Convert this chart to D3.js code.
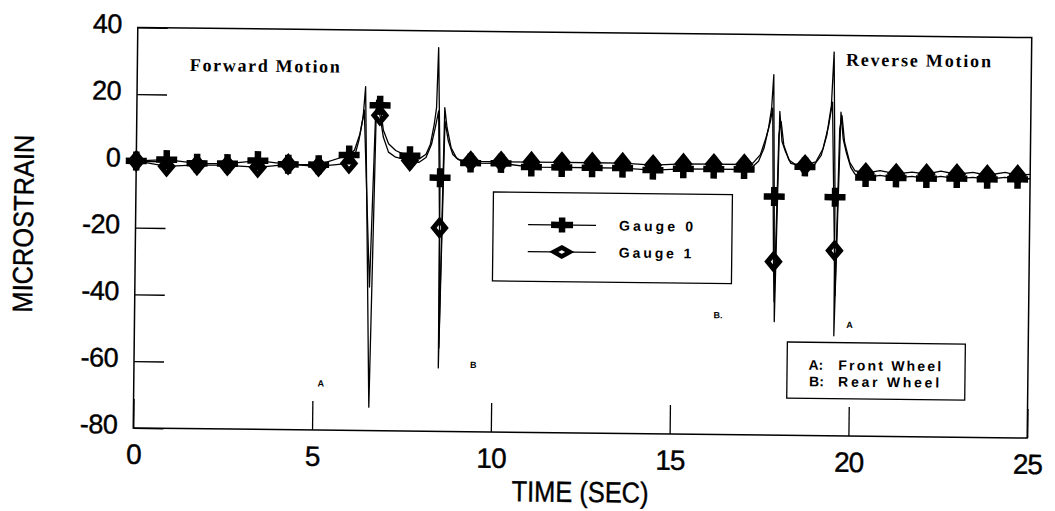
<!DOCTYPE html>
<html>
<head>
<meta charset="utf-8">
<script src="https://cdn.jsdelivr.net/npm/d3@7"></script>
<style>
  html, body { margin: 0; padding: 0; background: #fff; }
  svg { display: block; }
</style>
</head>
<body>
<svg id="chart" width="1055" height="511"></svg>
<script>
// Axis ticks
const xTicks = [0, 5, 10, 15, 20, 25];
const yTicks = [-80, -60, -40, -20, 0, 20, 40];

// Sample times that carry a marker (seconds)
const markerTimes = [0, 0.85, 1.70, 2.55, 3.40, 4.25, 5.10, 5.95, 6.80, 7.65,
  8.50, 9.35, 10.20, 11.05, 11.90, 12.75, 13.60, 14.45, 15.30, 16.15,
  17.00, 17.85, 18.70, 19.55, 20.40, 21.25, 22.10, 22.95, 23.80, 24.65];

// Microstrain at the marker samples
const gauge0Marks = [0, 0.5, -0.5, -0.5, 0.5, -0.5, -0.5, 2.5, 17.5, 2.5,
  -4, 0.5, 0.5, -0.5, -0.5, -0.5, -0.5, -1, -0.5, -0.5,
  -0.5, -8.5, 0.5, -8.5, -2.5, -2.5, -2.6, -2.5, -2.6, -2.5];
const gauge1Marks = [0, -1.5, -1, -1, -1.5, -0.5, -1, 0, 14.5, 1,
  -19, 1, 1, 1, 1, 1, 1, 0.5, 1, 1,
  1, -28, 1, -24.5, -1.2, -1.3, -1.3, -1.2, -1.4, -1.3];

// Samples between markers: [time, microstrain]
const gauge0Between = [
  [6.10, 4], [6.25, 9], [6.33, 14], [6.39, 23], [6.58, -73], [6.70, 19],
  [6.90, 10], [7.05, 6], [7.25, 4], [7.45, 3],
  [7.90, 1.5], [8.10, 3], [8.22, 6], [8.32, 12], [8.38, 17], [8.42, 35],
  [8.51, -61], [8.61, 17], [8.68, 11], [8.80, 5], [8.95, 2], [9.10, 1],
  [17.20, 0], [17.40, 2], [17.55, 6], [17.67, 12], [17.75, 18], [17.80, 28],
  [17.89, -46], [17.98, 17], [18.05, 8], [18.15, 5], [18.30, 1.5], [18.50, 1],
  [18.95, 1], [19.15, 4], [19.30, 10], [19.42, 19], [19.48, 35], [19.56, -50],
  [19.69, 17], [19.76, 9], [19.85, 5], [19.98, 0.5], [20.10, -1.5],
  [20.80, -1.8], [21.70, -2.0], [22.50, -1.9], [23.40, -2.1], [24.30, -2.0], [25.0, -2.3]
];
const gauge1Between = [
  [6.10, 2], [6.22, 7], [6.30, 12], [6.36, 16], [6.56, -37], [6.68, 16],
  [6.90, 8], [7.05, 3.5], [7.25, 2], [7.45, 1.5],
  [7.90, 0.5], [8.10, 2], [8.25, 6], [8.35, 11], [8.44, 16], [8.52, -55],
  [8.62, 13], [8.72, 7], [8.85, 3], [9.00, 1.5],
  [17.25, 1.5], [17.45, 4], [17.60, 9], [17.72, 14], [17.78, 18], [17.88, -40],
  [17.96, 10], [18.02, 14], [18.10, 7], [18.25, 2.5], [18.45, 1],
  [19.00, 2], [19.20, 6], [19.35, 13], [19.45, 20], [19.58, -38], [19.66, 12],
  [19.72, 16], [19.80, 8], [19.95, 2], [20.10, -0.5],
  [20.80, -0.4], [21.70, -0.7], [22.50, -0.3], [23.40, -0.6], [24.30, -0.5], [25.0, -1.0]
];

const seriesNames = ["Gauge 0", "Gauge 1"];
const wheelKeys = ["A:", "B:"];
const wheelNames = ["Front Wheel", "Rear Wheel"];
const motionLabels = ["Forward Motion", "Reverse Motion"];

// Small wheel letters beside the passes: [time, microstrain, text]
const passLetters = [[5.23, -66, "A"], [9.49, -60, "B"], [16.32, -44.2, "B."], [20.0, -46.7, "A"]];

const svg = d3.select("#chart");
svg.append("rect").attr("width", 1055).attr("height", 511).attr("fill", "#fff");

// whole sheet sits a touch clockwise
const g = svg.append("g").attr("transform", "rotate(0.65 583 232)");

const x = d3.scaleLinear().domain([0, 25]).range([135.5, 1029.5]);
const y = d3.scaleLinear().domain([-80, 40]).range([433, 32.5]);

const sans = "'Liberation Sans', Arial, Helvetica, sans-serif";
const serif = "'Liberation Serif', 'Times New Roman', serif";

// Axes
const gx = g.append("g")
  .attr("transform", `translate(0,${y(-80)})`)
  .call(d3.axisBottom(x).tickValues(xTicks).tickSize(-29).tickPadding(16).tickFormat(d => String(d)));
gx.select(".domain").remove();
gx.selectAll(".tick line").attr("stroke", "#000").attr("stroke-width", 1.3);
gx.selectAll(".tick text")
  .attr("font-family", sans).attr("font-size", 28).attr("letter-spacing", -1)
  .attr("fill", "#000").attr("stroke", "#000").attr("stroke-width", 0.4);

const gy = g.append("g")
  .attr("transform", `translate(${x(0)},0)`)
  .call(d3.axisLeft(y).tickValues(yTicks).tickSize(-30).tickPadding(16).tickFormat(d => String(d)));
gy.select(".domain").remove();
gy.selectAll(".tick line").attr("stroke", "#000").attr("stroke-width", 1.3);
gy.selectAll(".tick text")
  .attr("font-family", sans).attr("font-size", 27).attr("letter-spacing", -0.5)
  .attr("dy", "0.2em").attr("fill", "#000").attr("stroke", "#000").attr("stroke-width", 0.4);

// Plot frame
g.append("rect")
  .attr("x", x(0)).attr("y", y(40))
  .attr("width", x(25) - x(0)).attr("height", y(-80) - y(40))
  .attr("fill", "none").attr("stroke", "#000").attr("stroke-width", 1.5);

// Axis titles
g.append("text")
  .attr("transform", `translate(33,230) rotate(-90)`)
  .attr("text-anchor", "middle")
  .attr("font-family", sans).attr("font-size", 28)
  .attr("stroke", "#000").attr("stroke-width", 0.4)
  .attr("textLength", 178).attr("lengthAdjust", "spacingAndGlyphs")
  .text("MICROSTRAIN");
g.append("text")
  .attr("x", 583).attr("y", 502)
  .attr("text-anchor", "middle")
  .attr("font-family", sans).attr("font-size", 29)
  .attr("stroke", "#000").attr("stroke-width", 0.4)
  .attr("textLength", 137).attr("lengthAdjust", "spacingAndGlyphs")
  .text("TIME (SEC)");

// Motion captions
g.append("text").attr("x", 188).attr("y", 75.5)
  .attr("font-family", serif).attr("font-weight", "bold").attr("font-size", 18)
  .attr("textLength", 150).attr("lengthAdjust", "spacing")
  .text(motionLabels[0]);
g.append("text").attr("x", 844).attr("y", 62.7)
  .attr("font-family", serif).attr("font-weight", "bold").attr("font-size", 18)
  .attr("textLength", 145).attr("lengthAdjust", "spacing")
  .text(motionLabels[1]);

// Marker shapes
function plusPath(W, H, T) {
  return `M${-W/2},${-T/2}H${-T/2}V${-H/2}H${T/2}V${-T/2}H${W/2}V${T/2}H${T/2}V${H/2}H${-T/2}V${T/2}H${-W/2}Z`;
}
function diamondPath(rx, ry) {
  return `M0,${-ry}L${rx},0L0,${ry}L${-rx},0Z`;
}
const plusD = plusPath(21, 19, 6.5);
const diamondD = diamondPath(6, 7.3);

// Traces: marker samples plus in-between samples, in time order
const trace0 = markerTimes.map((t, i) => [t, gauge0Marks[i]]).concat(gauge0Between).sort((a, b) => a[0] - b[0]);
const trace1 = markerTimes.map((t, i) => [t, gauge1Marks[i]]).concat(gauge1Between).sort((a, b) => a[0] - b[0]);

const line = d3.line().x(d => x(d[0])).y(d => y(d[1]));

// markers first so the thin traces show through diamond centres
g.append("g").selectAll("path")
  .data(markerTimes.map((t, i) => [t, gauge1Marks[i]]))
  .join("path")
  .attr("d", diamondD)
  .attr("transform", d => `translate(${x(d[0])},${y(d[1])})`)
  .attr("fill", "#fff").attr("stroke", "#000").attr("stroke-width", 5).attr("stroke-linejoin", "miter");
g.append("g").selectAll("path")
  .data(markerTimes.map((t, i) => [t, gauge0Marks[i]]))
  .join("path")
  .attr("d", plusD)
  .attr("transform", d => `translate(${x(d[0])},${y(d[1])})`)
  .attr("fill", "#000");

[trace0, trace1].forEach(tr => {
  g.append("path").datum(tr)
    .attr("d", line)
    .attr("fill", "none").attr("stroke", "#000").attr("stroke-width", 1.3)
    .attr("stroke-linejoin", "round");
});

// Wheel letters
g.append("g").selectAll("text")
  .data(passLetters)
  .join("text")
  .attr("x", d => x(d[0])).attr("y", d => y(d[1]))
  .attr("dy", "0.35em").attr("text-anchor", "middle")
  .attr("font-family", sans).attr("font-weight", "bold").attr("font-size", 9)
  .text(d => d[2]);

// Series legend
const leg = g.append("g");
leg.append("rect").attr("x", 493).attr("y", 193).attr("width", 239).attr("height", 89)
  .attr("fill", "#fff").attr("stroke", "#000").attr("stroke-width", 1.3);
const legRows = [225.2, 252.2];
seriesNames.forEach((name, i) => {
  const ry = legRows[i];
  leg.append("line").attr("x1", 528).attr("x2", 596).attr("y1", ry).attr("y2", ry)
    .attr("stroke", "#000").attr("stroke-width", 1.3);
  if (i === 0) {
    leg.append("path").attr("d", plusPath(22, 15, 6.5))
      .attr("transform", `translate(562,${ry})`).attr("fill", "#000");
  } else {
    leg.append("path").attr("d", diamondPath(8, 4.5))
      .attr("transform", `translate(562,${ry})`)
      .attr("fill", "#fff").attr("stroke", "#000").attr("stroke-width", 4.5);
  }
  leg.append("text").attr("x", 619).attr("y", ry + 5)
    .attr("font-family", sans).attr("font-weight", "bold").attr("font-size", 14)
    .attr("textLength", i === 0 ? 74 : 72.7).attr("lengthAdjust", "spacing")
    .text(name);
});

// Wheel key
const key = g.append("g");
key.append("rect").attr("x", 788.6).attr("y", 339.7).attr("width", 178).attr("height", 56)
  .attr("fill", "#fff").attr("stroke", "#000").attr("stroke-width", 1.3);
const keyRows = [367.2, 383.6];
const keyWidths = [103, 101];
wheelKeys.forEach((k, i) => {
  key.append("text").attr("x", 810 + i * 0.8).attr("y", keyRows[i])
    .attr("font-family", sans).attr("font-weight", "bold").attr("font-size", 14)
    .text(k);
  key.append("text").attr("x", 839.8).attr("y", keyRows[i])
    .attr("font-family", sans).attr("font-weight", "bold").attr("font-size", 14)
    .attr("textLength", keyWidths[i]).attr("lengthAdjust", "spacing")
    .text(wheelNames[i]);
});
</script>
</body>
</html>
